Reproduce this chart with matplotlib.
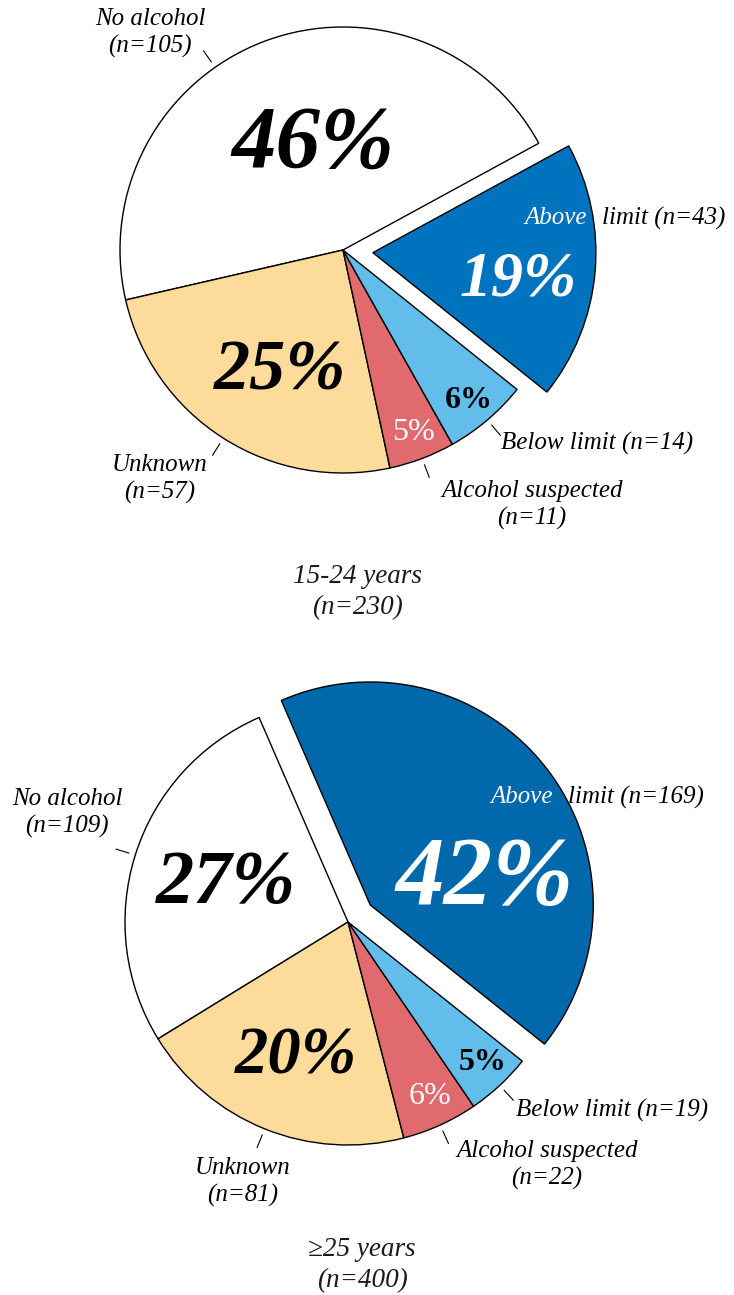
import math
import matplotlib.pyplot as plt

W, H = 734, 1295

labels = ['No alcohol', 'Unknown', 'Alcohol suspected', 'Below limit', 'Above limit']
counts_young = [105, 57, 11, 14, 43]
counts_old = [109, 81, 22, 19, 169]
titles = ['15-24 years\n(n=230)', '\u226525 years\n(n=400)']

colors_young = ['#FFFFFF', '#FDDB9A', '#E06A6E', '#62BDEA', '#0073BF']
colors_old = ['#FFFFFF', '#FDDB9A', '#E06A6E', '#62BDEA', '#0068AB']

FONT = ['Liberation Serif', 'DejaVu Serif']
R = 223

# layout per pie (pixel coords, y down)
pies = [
    dict(counts=counts_young, colors=colors_young, title=titles[0],
         center=(343, 250), start=28.6, explode=30,
         pct_pos=[(313, 145), (280, 372), (413, 432), (469, 400), (518, 280)],
         pct_size=[64, 52, 23, 23, 46],
         lab_pos=[(150, 33), (160, 479), (532, 505), (597, 443), (590, 218)],
         tick_ang=[125, None, None, None, None],
         title_pos=(357, 592)),
    dict(counts=counts_old, colors=colors_old, title=titles[1],
         center=(348, 922), start=113.5, explode=28,
         pct_pos=[(226, 885), (296, 1057), (430, 1097), (483, 1063), (485, 880)],
         pct_size=[55, 48, 23, 23, 70],
         lab_pos=[(67, 813), (243, 1182), (547, 1165), (612, 1110), (556, 797)],
         tick_ang=[None, None, None, None, None],
         title_pos=(362, 1265)),
]

pct_color = ['black', 'black', 'white', 'black', 'white']
pct_weight = ['bold', 'bold', 'normal', 'bold', 'bold']
pct_style = ['italic', 'italic', 'normal', 'normal', 'italic']

fig = plt.figure(figsize=(W / 100, H / 100), dpi=100)
ax = fig.add_axes([0, 0, 1, 1])


def px(x, y):
    return x, H - y


for p in pies:
    cx, cy = px(*p['center'])
    total = sum(p['counts'])
    explode = [0, 0, 0, 0, p['explode']]
    wedges, _ = ax.pie(p['counts'], colors=p['colors'], startangle=p['start'],
                       counterclock=True, radius=R, center=(cx, cy), explode=explode,
                       wedgeprops=dict(edgecolor='black', linewidth=1.0))

    for i, c in enumerate(p['counts']):
        pct = int(c / total * 100 + 0.5)
        x, y = px(*p['pct_pos'][i])
        ax.text(x, y, f'{pct}%', ha='center', va='center', fontsize=p['pct_size'][i],
                color=pct_color[i], fontweight=pct_weight[i], fontstyle=pct_style[i],
                family=FONT)

    # small leader ticks
    for i, w in enumerate(wedges[:4]):
        ang = p['tick_ang'][i]
        if ang is None:
            ang = (w.theta1 + w.theta2) / 2
        a = math.radians(ang)
        ax.plot([cx + R * 1.03 * math.cos(a), cx + R * 1.09 * math.cos(a)],
                [cy + R * 1.03 * math.sin(a), cy + R * 1.09 * math.sin(a)],
                color='black', lw=0.8)

    kw = dict(fontsize=18, fontstyle='italic', family=FONT, linespacing=1.3)
    for i in range(4):
        x, y = px(*p['lab_pos'][i])
        if i == 3:
            txt = f'{labels[i]} (n={p["counts"][i]})'
        else:
            txt = f'{labels[i]}\n(n={p["counts"][i]})'
        ax.text(x, y, txt, ha='center', va='center', color='black', **kw)
    x, y = px(*p['lab_pos'][4])
    first, rest = labels[4].split(' ', 1)
    ax.text(x - 3, y, first, ha='right', va='center', color='white', **kw)
    ax.text(x + 12, y, f'{rest} (n={p["counts"][4]})', ha='left', va='center',
            color='black', **kw)

    x, y = px(*p['title_pos'])
    ax.text(x, y, p['title'], ha='center', va='center', fontsize=19.5, fontstyle='italic',
            family=FONT, linespacing=1.3, color='#1a1a1a')

ax.set_xlim(0, W)
ax.set_ylim(0, H)
ax.set_aspect('equal')
ax.axis('off')
fig.savefig('out.png', dpi=100)
